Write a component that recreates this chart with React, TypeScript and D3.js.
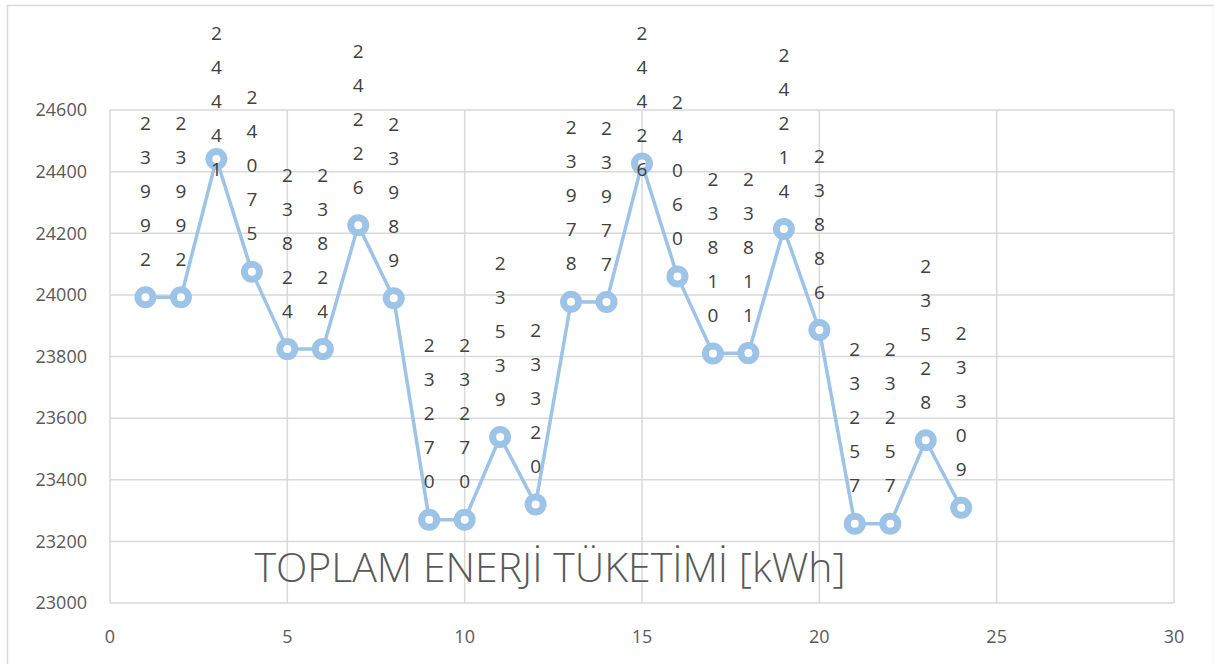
import React, { useRef, useEffect } from "react";
import * as d3 from "d3";

const hours = [1, 2, 3, 4, 5, 6, 7, 8, 9, 10, 11, 12, 13, 14, 15, 16, 17, 18, 19, 20, 21, 22, 23, 24];
const energy = [
  23992, 23992, 24441, 24075, 23824, 23824, 24226, 23989, 23270, 23270, 23539, 23320,
  23978, 23977, 24426, 24060, 23810, 23811, 24214, 23886, 23257, 23257, 23528, 23309,
];
const xTicks = [0, 5, 10, 15, 20, 25, 30];
const yTicks = [23000, 23200, 23400, 23600, 23800, 24000, 24200, 24400, 24600];
const title = "TOPLAM ENERJİ TÜKETİMİ [kWh]";

const W = 1214;
const H = 664;
const FONT = "'Open Sans', 'Noto Sans', sans-serif";

export default function App() {
  const ref = useRef<SVGSVGElement | null>(null);

  useEffect(() => {
    const svg = d3.select(ref.current);
    svg.selectAll("*").remove();

    const margin = { top: 110, right: 40, bottom: 61, left: 110 };
    const x = d3.scaleLinear().domain([0, 30]).range([margin.left, W - margin.right]);
    const y = d3.scaleLinear().domain([23000, 24600]).range([H - margin.bottom, margin.top]);

    // outer chart border
    svg
      .append("rect")
      .attr("x", 7.5)
      .attr("y", 5.5)
      .attr("width", W - 7)
      .attr("height", H)
      .attr("fill", "#fff")
      .attr("stroke", "#d9d9d9")
      .attr("stroke-width", 1.5);

    // gridlines
    const grid = svg.append("g").attr("stroke", "#d9d9d9").attr("stroke-width", 1.5);
    grid
      .selectAll(".hg")
      .data(yTicks)
      .enter()
      .append("line")
      .attr("x1", x(0))
      .attr("x2", x(30))
      .attr("y1", (d) => y(d))
      .attr("y2", (d) => y(d));
    grid
      .selectAll(".vg")
      .data(xTicks)
      .enter()
      .append("line")
      .attr("x1", (d) => x(d))
      .attr("x2", (d) => x(d))
      .attr("y1", y(23000))
      .attr("y2", y(24600));

    // tick labels
    svg
      .append("g")
      .selectAll("text")
      .data(yTicks)
      .enter()
      .append("text")
      .attr("x", 87)
      .attr("y", (d) => y(d))
      .attr("dy", "0.35em")
      .attr("text-anchor", "end")
      .attr("fill", "#595959")
      .style("font-family", FONT)
      .style("font-size", "18px")
      .text((d) => d);
    svg
      .append("g")
      .selectAll("text")
      .data(xTicks)
      .enter()
      .append("text")
      .attr("x", (d) => x(d))
      .attr("y", y(23000) + 34)
      .attr("dy", "0.35em")
      .attr("text-anchor", "middle")
      .attr("fill", "#595959")
      .style("font-family", FONT)
      .style("font-size", "18px")
      .text((d) => d);

    // title
    svg
      .append("text")
      .attr("x", 550)
      .attr("y", 582)
      .attr("text-anchor", "middle")
      .attr("fill", "#595959")
      .style("font-family", FONT)
      .style("font-size", "41px")
      .style("font-weight", 300)
      .text(title);

    const data = hours.map((h, i) => ({ h, v: energy[i] }));

    // line
    const line = d3
      .line<{ h: number; v: number }>()
      .x((d) => x(d.h))
      .y((d) => y(d.v));
    svg
      .append("path")
      .datum(data)
      .attr("fill", "none")
      .attr("stroke", "#9dc3e6")
      .attr("stroke-width", 3.5)
      .attr("d", line);

    // markers
    svg
      .append("g")
      .selectAll("circle")
      .data(data)
      .enter()
      .append("circle")
      .attr("cx", (d) => x(d.h))
      .attr("cy", (d) => y(d.v))
      .attr("r", 7.5)
      .attr("fill", "#fff")
      .attr("stroke", "#9dc3e6")
      .attr("stroke-width", 7);

    // stacked digit labels
    const step = 34;
    const labels = svg.append("g");
    data.forEach((d) => {
      const digits = String(d.v).split("");
      let last = y(d.v) - 38;
      let first = last - step * (digits.length - 1);
      if (first < 33) {
        first = 33;
      }
      digits.forEach((c, k) => {
        labels
          .append("text")
          .attr("x", x(d.h))
          .attr("y", first + k * step)
          .attr("dy", "0.35em")
          .attr("text-anchor", "middle")
          .attr("fill", "#404040")
          .style("font-family", FONT)
          .style("font-size", "19px")
          .text(c);
      });
    });
  }, []);

  return (
    <svg
      ref={ref}
      width={W}
      height={H}
      style={{ position: "absolute", left: 0, top: 0, background: "#fff" }}
    />
  );
}
